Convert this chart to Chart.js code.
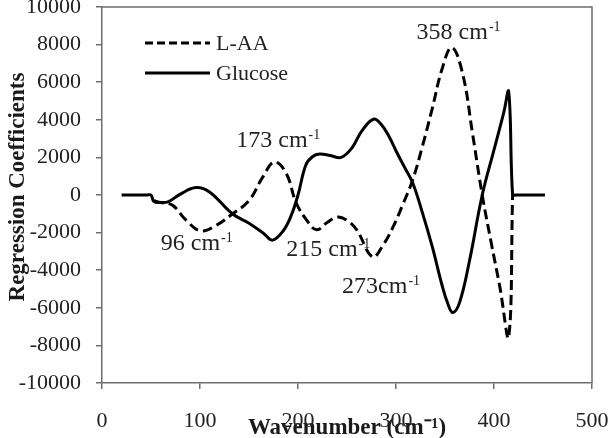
<!DOCTYPE html>
<html><head><meta charset="utf-8">
<script src="https://cdn.jsdelivr.net/npm/chart.js@4/dist/chart.umd.min.js"></script>
<style>html,body{margin:0;padding:0;background:#fff}#wrap{width:609px;height:438px}</style>
</head><body><div id="wrap"><canvas id="c" width="609" height="438"></canvas></div>
<script>
// ---- data ----
const glucoseX = [20, 35, 46, 50, 53, 60, 68, 80, 96, 110, 133, 150, 165, 174, 185, 193, 200, 208, 215, 222, 233, 244, 255, 265, 277, 285, 293, 301, 309, 317, 327, 337, 347, 353, 358, 365, 375, 388, 400, 410, 415, 419, 422, 452];
const glucoseY = [0, 0, 0, 0, -350, -400, -350, 50, 400, 150, -1000, -1500, -2050, -2400, -1900, -1100, 0, 1600, 2050, 2180, 2100, 2000, 2500, 3400, 4030, 3750, 3100, 2250, 1450, 650, -950, -2750, -4800, -5800, -6250, -5700, -3500, 0, 2400, 4400, 5500, 0, 0, 0];
const laaX = [53, 60, 72, 86, 101, 117, 133, 150, 164, 176, 188, 198, 209, 219, 230, 240, 250, 260, 276, 287, 297, 307, 317, 327, 337, 347, 357, 368, 378, 388, 397, 406, 415, 419];
const laaY = [-300, -400, -550, -1350, -1910, -1600, -1010, -300, 950, 1750, 1150, -400, -1350, -1850, -1450, -1170, -1350, -1860, -3290, -2650, -1700, -500, 800, 2600, 4600, 6700, 7850, 6450, 3300, 0, -2500, -4900, -7550, 0];
const xTicks = [0, 100, 200, 300, 400, 500];
const yTicks = [-10000, -8000, -6000, -4000, -2000, 0, 2000, 4000, 6000, 8000, 10000];
const seriesNames = ['L-AA', 'Glucose'];
const xTitle = 'Wavenumber (cm\u207B\u00B9)';
const yTitle = 'Regression Coefficients';
// peak annotations: main text, superscript, anchor (left/baseline) in data units
const annMain = ['96 cm', '173 cm', '215 cm', '273cm', '358 cm'];
const annSup = ['-1', '-1', '-1', '-1', '-1'];
const annX = [60, 137, 188, 245, 321];
const annY = [-2930, 2550, -3245, -5210, 8300];

const zip = (xs, ys) => xs.map((x, i) => ({x, y: ys[i]}));
const SERIF = '"Liberation Serif", "Times New Roman", serif';
const TXT = '#222';
const AX = '#6e6e6e';

const boxPlugin = {
  id: 'box',
  afterDraw(chart) {
    const {ctx, chartArea: a} = chart;
    ctx.save();
    ctx.strokeStyle = AX; ctx.lineWidth = 1.5;
    ctx.beginPath();
    ctx.moveTo(a.left, a.top); ctx.lineTo(a.right, a.top); ctx.lineTo(a.right, a.bottom);
    ctx.stroke();
    // y axis title, centred a little above the plot middle as in the reference
    ctx.translate(18, (a.top + a.bottom) / 2 - 8);
    ctx.rotate(-Math.PI / 2);
    ctx.fillStyle = '#1a1a1a';
    ctx.font = 'bold 23px ' + SERIF;
    ctx.textAlign = 'center'; ctx.textBaseline = 'middle';
    ctx.fillText(yTitle, 0, 0);
    ctx.restore();
  }
};

const legendPlugin = {
  id: 'customLegend',
  afterDraw(chart) {
    const {ctx, chartArea: a} = chart;
    ctx.save();
    chart.data.datasets.forEach((ds, i) => {
      const y = a.top + 36 + i * 30;
      const x0 = a.left + 43, x1 = a.left + 108;
      ctx.strokeStyle = ds.borderColor; ctx.lineWidth = ds.borderWidth;
      ctx.setLineDash(i === 0 ? [8, 4] : []);
      ctx.beginPath(); ctx.moveTo(x0, y); ctx.lineTo(x1, y); ctx.stroke();
      ctx.setLineDash([]);
      ctx.fillStyle = TXT;
      ctx.font = '22px ' + SERIF;
      ctx.textBaseline = 'middle'; ctx.textAlign = 'left';
      ctx.fillText(ds.label, x1 + 6, y + 1);
    });
    ctx.restore();
  }
};

const annPlugin = {
  id: 'peakLabels',
  afterDraw(chart) {
    const {ctx} = chart;
    const xs = chart.scales.x, ys = chart.scales.y;
    ctx.save();
    ctx.fillStyle = TXT; ctx.textBaseline = 'alphabetic'; ctx.textAlign = 'left';
    annMain.forEach((t, i) => {
      const px = xs.getPixelForValue(annX[i]);
      const py = ys.getPixelForValue(annY[i]);
      ctx.font = '24px ' + SERIF;
      ctx.fillText(t, px, py);
      const w = ctx.measureText(t).width;
      ctx.font = '14px ' + SERIF;
      ctx.fillText(annSup[i], px + w + 1, py - 8);
    });
    ctx.restore();
  }
};

new Chart(document.getElementById('c'), {
  type: 'line',
  data: {
    datasets: [
      {label: seriesNames[0], data: zip(laaX, laaY), borderColor: '#000', borderWidth: 3, borderDash: [10, 5], fill: false, pointRadius: 0, tension: 0.4},
      {label: seriesNames[1], data: zip(glucoseX, glucoseY), borderColor: '#000', borderWidth: 3, fill: false, pointRadius: 0, tension: 0.4}
    ]
  },
  plugins: [boxPlugin, legendPlugin, annPlugin],
  options: {
    responsive: false, animation: false,
    layout: {padding: {left: 0, right: 17, top: 7, bottom: 0}},
    plugins: {legend: {display: false}, tooltip: {enabled: false}},
    scales: {
      x: {
        type: 'linear', min: 0, max: 500,
        afterBuildTicks: s => { s.ticks = xTicks.map(v => ({value: v})); },
        afterFit: s => { s.height = 55; s.paddingLeft = 0; s.paddingRight = 0; },
        ticks: {color: TXT, font: {family: SERIF, size: 22}, padding: 19, maxRotation: 0, callback: v => String(v)},
        grid: {drawOnChartArea: false, drawTicks: true, tickLength: 6, color: AX, lineWidth: 1.5},
        border: {color: AX, width: 1.5},
        title: {display: true, text: xTitle, color: '#1a1a1a', font: {family: SERIF, size: 23, weight: 'bold'}, padding: {top: 0, bottom: -4}}
      },
      y: {
        type: 'linear', min: -10000, max: 10000,
        afterBuildTicks: s => { s.ticks = yTicks.map(v => ({value: v})); },
        afterFit: s => { s.width = 102; s.paddingTop = 0; s.paddingBottom = 0; },
        ticks: {color: TXT, font: {family: SERIF, size: 22}, padding: 15, callback: v => String(v)},
        grid: {drawOnChartArea: false, drawTicks: true, tickLength: 6, color: AX, lineWidth: 1.5},
        border: {color: AX, width: 1.5},
        title: {display: false}
      }
    }
  }
});
</script></body></html>
